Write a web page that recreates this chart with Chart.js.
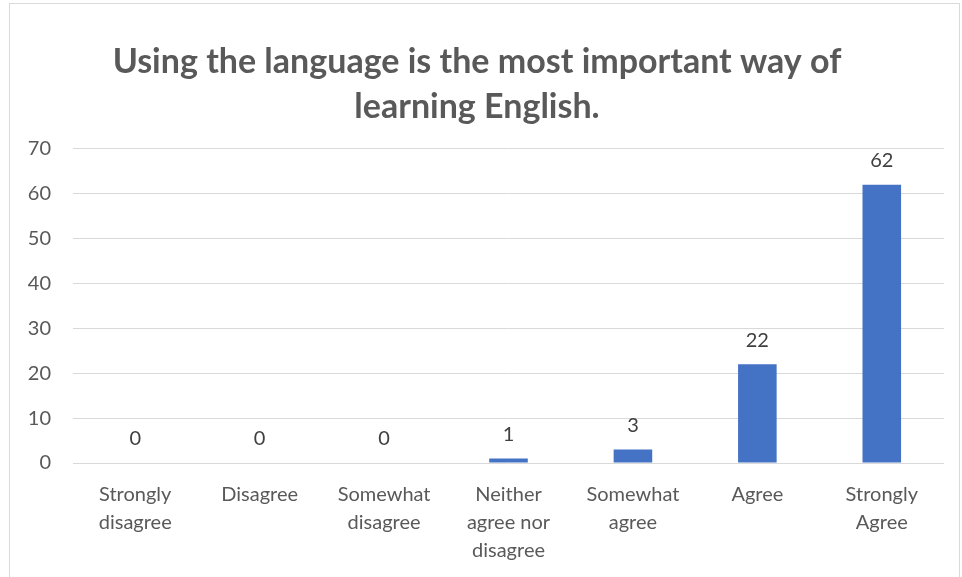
<!DOCTYPE html>
<html>
<head>
<meta charset="utf-8">
<script src="https://cdn.jsdelivr.net/npm/chart.js@4/dist/chart.umd.min.js"></script>
<style>
  html, body { margin: 0; padding: 0; background: #ffffff; }
  #frame { position: absolute; left: 9px; top: 3px; width: 951px; height: 600px; border: 1px solid #d9d9d9; box-sizing: border-box; }
  #wrap { position: absolute; left: 0; top: 0; width: 962px; height: 577px; }
</style>
</head>
<body>
<div id="frame"></div>
<div id="wrap"><canvas id="c" width="962" height="577"></canvas></div>
<script>
const titleLines = ['Using the language is the most important way of', 'learning English.'];
const categories = [
  ['Strongly', 'disagree'],
  ['Disagree'],
  ['Somewhat', 'disagree'],
  ['Neither', 'agree nor', 'disagree'],
  ['Somewhat', 'agree'],
  ['Agree'],
  ['Strongly', 'Agree']
];
const responses = [0, 0, 0, 1, 3, 22, 62];
const yTicks = [0, 10, 20, 30, 40, 50, 60, 70];

const FONT = "'Lato', 'Open Sans', sans-serif";

// Value labels drawn above each bar
const barValueLabels = {
  id: 'barValueLabels',
  afterDatasetsDraw(chart) {
    const ctx = chart.ctx;
    const meta = chart.getDatasetMeta(0);
    ctx.save();
    ctx.font = '20px ' + FONT;
    ctx.fillStyle = '#404040';
    ctx.textAlign = 'center';
    ctx.textBaseline = 'middle';
    meta.data.forEach((bar, i) => {
      ctx.fillText(String(chart.data.datasets[0].data[i]), bar.x, bar.y - 24);
    });
    ctx.restore();
  }
};

new Chart(document.getElementById('c'), {
  type: 'bar',
  data: {
    labels: categories,
    datasets: [{
      data: responses,
      backgroundColor: '#4472C4',
      borderWidth: 0,
      barPercentage: 0.62,
      categoryPercentage: 0.5
    }]
  },
  options: {
    responsive: false,
    animation: false,
    layout: { padding: { left: 10, right: 18, top: 0, bottom: 0 } },
    plugins: {
      legend: { display: false },
      tooltip: { enabled: false },
      title: {
        display: true,
        text: titleLines,
        color: '#595959',
        font: { family: FONT, size: 34, weight: 'bold', lineHeight: 1.32 },
        padding: { top: 40, bottom: 19 }
      }
    },
    scales: {
      x: {
        grid: { display: false, drawTicks: false },
        border: { display: false },
        ticks: {
          color: '#595959',
          font: { family: FONT, size: 20, lineHeight: 1.4 },
          padding: 18,
          maxRotation: 0,
          autoSkip: false
        },
        afterFit(scale) { scale.height = 114; }
      },
      y: {
        min: 0,
        max: 70,
        afterBuildTicks(scale) { scale.ticks = yTicks.map(v => ({ value: v })); },
        grid: { color: '#d9d9d9', lineWidth: 1, drawTicks: false },
        border: { display: false },
        ticks: {
          color: '#595959',
          font: { family: FONT, size: 20 },
          padding: 22
        },
        afterFit(scale) { scale.width = 63; }
      }
    }
  },
  plugins: [barValueLabels]
});
</script>
</body>
</html>
